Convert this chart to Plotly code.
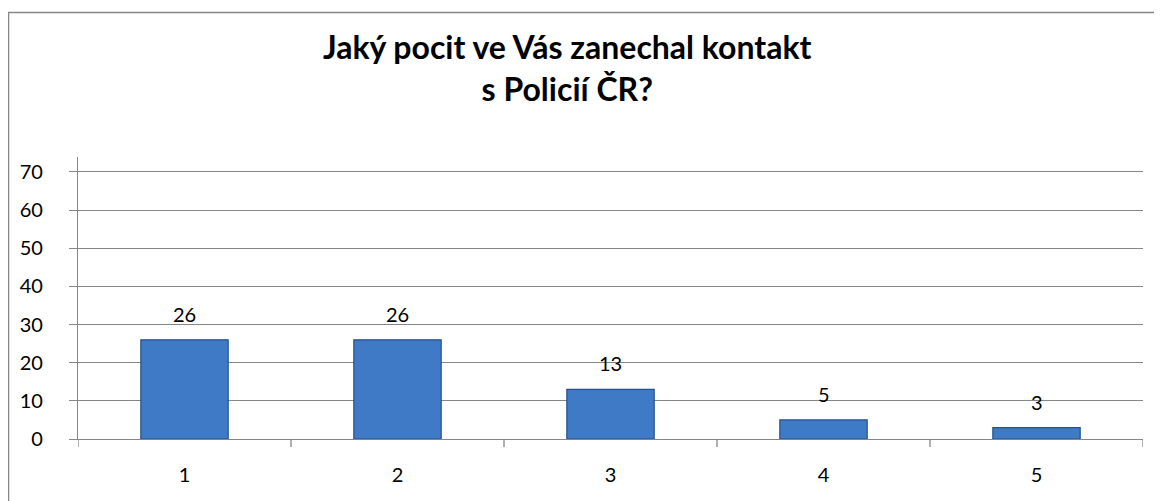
import plotly.graph_objects as go

categories = ["1", "2", "3", "4", "5"]
values = [26, 26, 13, 5, 3]
y_ticks = [0, 10, 20, 30, 40, 50, 60, 70]
title_lines = ["Jaký pocit ve Vás zanechal kontakt", "s Policií ČR?"]

# page body has an 8px margin; work in reference pixel coords minus offset
OFF = 8
W, H = 1162 - OFF, 501 - OFF
L, R, T, B = 78 - OFF, 1162 - 1143, 157 - OFF, 501 - 439
pw, ph = W - L - R, H - T - B

def px_x(x):
    return (x - OFF - L) / pw

def px_y(y):
    return (H - B - (y - OFF)) / ph

FONT = "Lato, Carlito, Calibri, sans-serif"

fig = go.Figure()
fig.add_trace(go.Bar(
    x=categories, y=values,
    width=0.41,
    marker=dict(color="#3f7ac6", line=dict(color="#25508a", width=1.2)),
))

for i, v in enumerate(values):
    fig.add_annotation(x=i, y=v, text=str(v), showarrow=False,
                       xanchor="center", yanchor="bottom", yshift=12,
                       font=dict(family=FONT, size=20, color="#000000"))

fig.update_layout(
    width=W, height=H,
    margin=dict(l=L, r=R, t=T, b=B, pad=0),
    paper_bgcolor="white", plot_bgcolor="white",
    showlegend=False,
    font=dict(family=FONT, size=20, color="#000000"),
    xaxis=dict(
        type="category", range=[-0.5, 4.5],
        showgrid=False, showline=True, linecolor="#868686", linewidth=1.3,
        ticks="", tickfont=dict(size=20), ticklabelstandoff=18,
        fixedrange=True,
    ),
    yaxis=dict(
        range=[0, 73.9], tickvals=y_ticks, ticktext=[str(t) for t in y_ticks],
        showgrid=True, gridcolor="#868686", gridwidth=1.3,
        showline=True, linecolor="#868686", linewidth=1.3,
        ticks="outside", ticklen=8, tickcolor="#868686", tickwidth=1.3,
        tickfont=dict(size=20), zeroline=False, ticklabelstandoff=22,
        fixedrange=True,
    ),
    bargap=0.59,
)

# category boundary tick marks on x axis
for i in range(len(categories) + 1):
    xb = i - 0.5
    fig.add_shape(type="line", xref="x", yref="paper",
                  x0=xb, x1=xb, y0=0, y1=px_y(447),
                  line=dict(color="#868686", width=1.3))

# chart border
fig.add_shape(type="rect", xref="paper", yref="paper",
              x0=px_x(8.5), x1=px_x(1175), y0=px_y(12.5), y1=px_y(515),
              line=dict(color="#868686", width=1.5), fillcolor="rgba(0,0,0,0)",
              layer="below")

fig.add_annotation(
    xref="paper", yref="paper", x=px_x(567), y=px_y(67),
    text="<b>" + "<br>".join(title_lines) + "</b>",
    showarrow=False, xanchor="center", yanchor="middle",
    font=dict(family=FONT, size=32, color="#000000"),
    align="center",
)

fig.write_html("out.html")
